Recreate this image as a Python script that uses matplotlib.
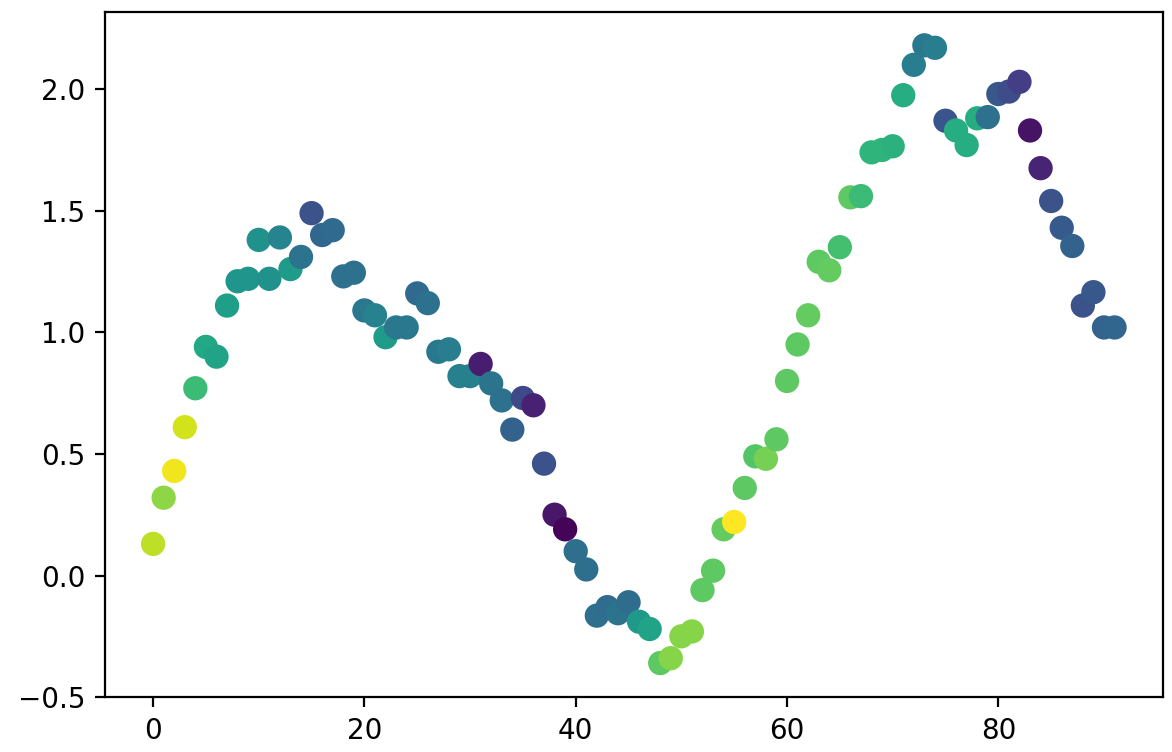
import matplotlib
matplotlib.use('Agg')
import matplotlib.pyplot as plt
import numpy as np

# y values, one per index 0..91
y_vals = [0.13, 0.32, 0.43, 0.61, 0.77, 0.94, 0.90, 1.11, 1.21, 1.22,
          1.38, 1.22, 1.39, 1.26, 1.31, 1.49, 1.40, 1.42, 1.23, 1.245,
          1.09, 1.07, 0.98, 1.02, 1.02, 1.16, 1.12, 0.92, 0.93, 0.82,
          0.82, 0.87, 0.79, 0.72, 0.60, 0.73, 0.70, 0.46, 0.25, 0.19,
          0.10, 0.025, -0.165, -0.13, -0.155, -0.11, -0.19, -0.22, -0.36, -0.34,
          -0.25, -0.23, -0.06, 0.02, 0.19, 0.22, 0.36, 0.49, 0.48, 0.56,
          0.80, 0.95, 1.07, 1.29, 1.255, 1.35, 1.555, 1.56, 1.74, 1.75,
          1.765, 1.975, 2.10, 2.18, 2.17, 1.87, 1.83, 1.77, 1.88, 1.885,
          1.98, 1.99, 2.03, 1.83, 1.675, 1.54, 1.43, 1.355, 1.11, 1.165,
          1.02, 1.02]

# colour value (0..1 on viridis) per point
c_vals = [0.90, 0.83, 0.98, 0.93, 0.68, 0.60, 0.58, 0.56, 0.52, 0.52,
          0.50, 0.50, 0.45, 0.55, 0.38, 0.25, 0.33, 0.34, 0.37, 0.37,
          0.40, 0.44, 0.55, 0.40, 0.40, 0.34, 0.37, 0.40, 0.42, 0.43,
          0.43, 0.08, 0.38, 0.37, 0.31, 0.22, 0.09, 0.25, 0.06, 0.01,
          0.36, 0.36, 0.36, 0.35, 0.38, 0.35, 0.54, 0.58, 0.75, 0.82,
          0.82, 0.82, 0.75, 0.75, 0.76, 1.00, 0.75, 0.73, 0.79, 0.75,
          0.75, 0.75, 0.76, 0.75, 0.76, 0.70, 0.75, 0.68, 0.65, 0.65,
          0.64, 0.62, 0.42, 0.40, 0.42, 0.26, 0.62, 0.62, 0.62, 0.37,
          0.27, 0.23, 0.18, 0.05, 0.10, 0.25, 0.28, 0.31, 0.25, 0.27,
          0.31, 0.33]

x = np.arange(len(y_vals))

fig = plt.figure(figsize=(5.86, 3.76), dpi=200)
ax = fig.add_axes([0.0896, 0.073, 0.9024, 0.911])
ax.scatter(x, y_vals, c=c_vals, cmap='viridis', vmin=0, vmax=1, s=60)
ax.set_xticks([0, 20, 40, 60, 80])
ax.set_yticks([-0.5, 0.0, 0.5, 1.0, 1.5, 2.0])
ax.set_ylim(-0.5, 2.317)

fig.savefig("out.png", dpi=200)
